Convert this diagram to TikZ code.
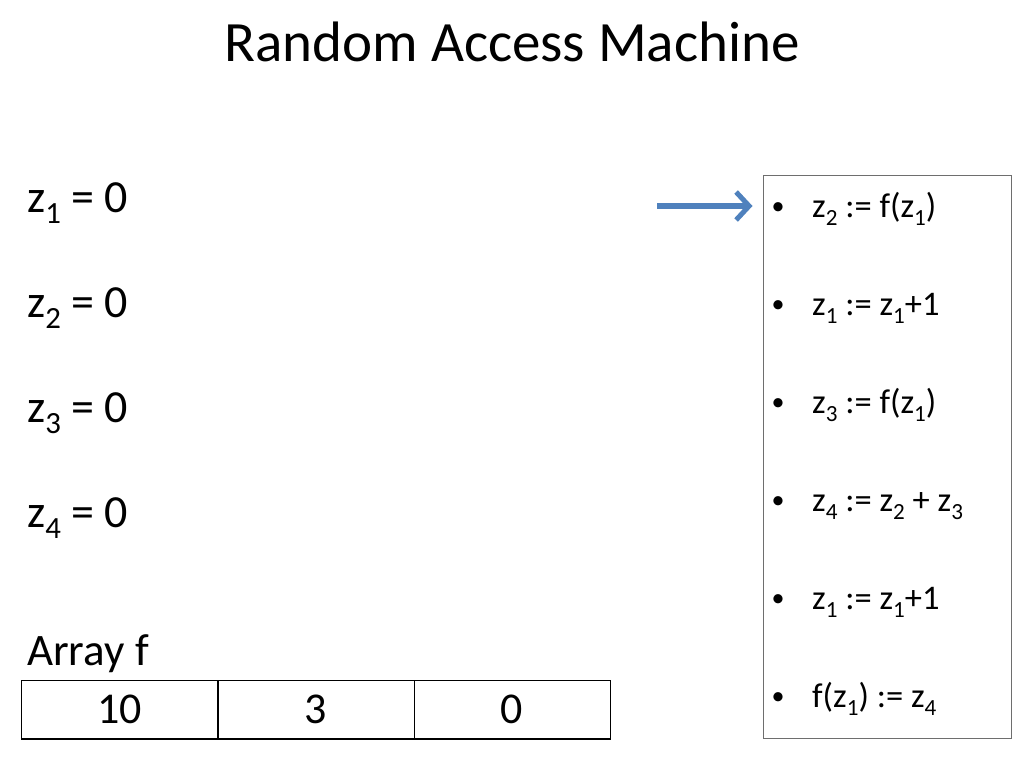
\documentclass[tikz,border=0pt]{standalone}
\usepackage{fontspec}
\setmainfont{Carlito}
\usetikzlibrary{arrows.meta}
\newcommand{\sbs}[1]{\raisebox{-0.25em}{\scalebox{0.67}{#1}}}
\definecolor{arrowblue}{RGB}{79,129,189}
\definecolor{boxgray}{RGB}{110,110,110}
\tikzset{
  bigtext/.style={anchor=base west, inner sep=0pt, font=\fontsize{46}{52}\selectfont},
  itemtext/.style={anchor=base west, inner sep=0pt, font=\fontsize{34.5}{40}\selectfont},
  bullettext/.style={anchor=base, inner sep=0pt, font=\fontsize{26}{30}\selectfont},
  cell/.style={draw=black, line width=1pt, minimum width=196pt, minimum height=58pt, inner sep=0pt, font=\fontsize{44}{50}\selectfont},
  progbox/.style={draw=boxgray, line width=1pt, minimum width=248pt, minimum height=563pt, inner sep=0pt},
  pointer/.style={draw=arrowblue, line width=5.5pt, -{Straight Barb[length=13pt,width=28pt,line width=5pt]}}
}
\begin{document}
\begin{tikzpicture}[x=1pt,y=-1pt]
\useasboundingbox (0,0) rectangle (1024,768);
\node[anchor=base, inner sep=0pt, font=\fontsize{57}{62}\selectfont] (title) at (512,62) {Random Access Machine};

\node[bigtext] (v1) at (27,212) {z\sbs{1} = 0};
\node[bigtext] (v2) at (27,317) {z\sbs{2} = 0};
\node[bigtext] (v3) at (27,422) {z\sbs{3} = 0};
\node[bigtext] (v4) at (27,527) {z\sbs{4} = 0};

\node[bigtext, font=\fontsize{45}{50}\selectfont] (arr) at (27,665) {Array f};
\node[cell] (c1) at (119.5,709) {10};
\node[cell] (c2) at (316,709) {3};
\node[cell] (c3) at (512,709) {0};
\draw[line width=2pt] (c1.south west) -- (c3.south east);

\node[progbox] (prog) at (887,456.5) {};

\node[bullettext] (b1) at (778,214) {•};
\node[itemtext] (i1) at (812,217) {z\sbs{2} := f(z\sbs{1})};
\node[bullettext] (b2) at (778,312) {•};
\node[itemtext] (i2) at (812,315) {z\sbs{1} := z\sbs{1}+1};
\node[bullettext] (b3) at (778,410) {•};
\node[itemtext] (i3) at (812,413) {z\sbs{3} := f(z\sbs{1})};
\node[bullettext] (b4) at (778,508) {•};
\node[itemtext] (i4) at (812,511) {z\sbs{4} := z\sbs{2} + z\sbs{3}};
\node[bullettext] (b5) at (778,606) {•};
\node[itemtext] (i5) at (812,609) {z\sbs{1} := z\sbs{1}+1};
\node[bullettext] (b6) at (778,704) {•};
\node[itemtext] (i6) at (812,707) {f(z\sbs{1}) := z\sbs{4}};

\coordinate (astart) at (657,206);
\draw[pointer, shorten >=10pt] (astart) -- (prog.west |- astart);
\end{tikzpicture}
\end{document}
